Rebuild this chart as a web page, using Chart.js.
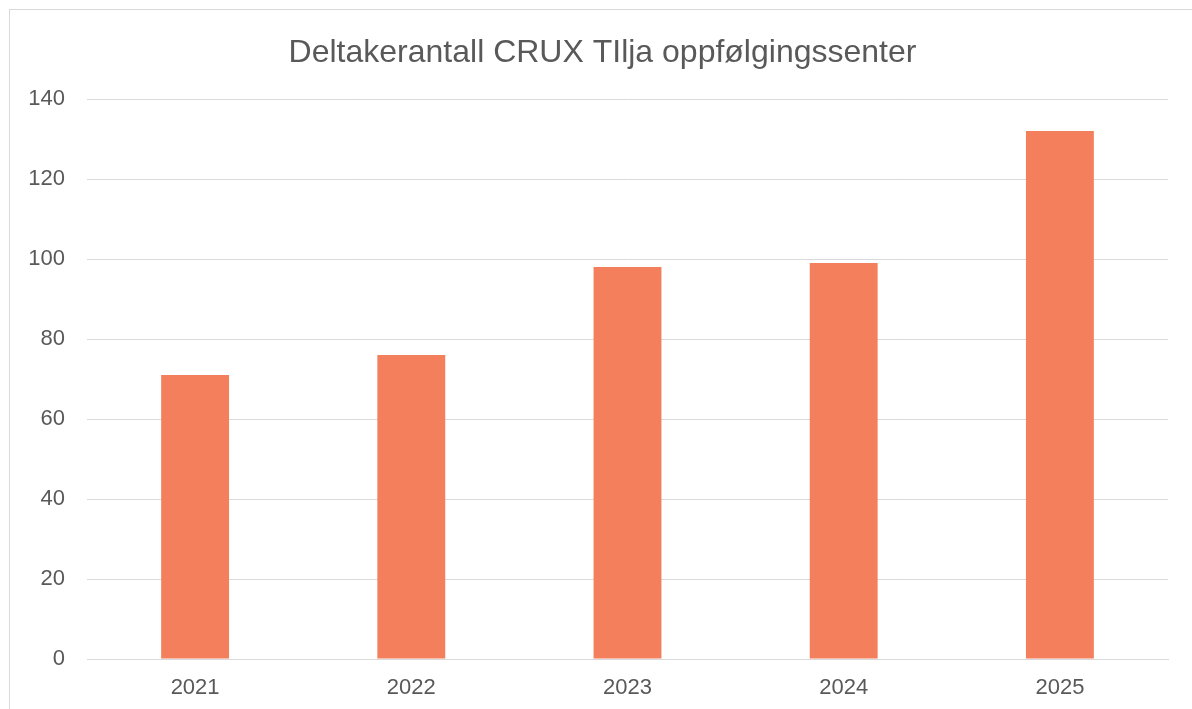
<!DOCTYPE html>
<html>
<head>
<meta charset="utf-8">
<script src="https://cdn.jsdelivr.net/npm/chart.js@4.4.1/dist/chart.umd.min.js"></script>
<style>
  html, body { margin: 0; padding: 0; background: #ffffff; overflow: hidden; }
  #wrap { position: relative; width: 1192px; height: 709px; }
  #frame { position: absolute; left: 9px; top: 9px; width: 1200px; height: 720px; border: 1px solid #d9d9d9; box-sizing: border-box; }
  canvas { position: absolute; left: 0; top: 0; }
</style>
</head>
<body>
<div id="wrap">
  <div id="frame"></div>
  <canvas id="c" width="1192" height="709"></canvas>
</div>
<script>
const chartTitle = "Deltakerantall CRUX TIlja oppfølgingssenter";
const categories = ["2021", "2022", "2023", "2024", "2025"];
const values = [71, 76, 98, 99, 132];
const yTicks = [0, 20, 40, 60, 80, 100, 120, 140];

const textColor = "#595959";
const gridColor = "#d9d9d9";
const fontFamily = "'Liberation Sans', Arial, sans-serif";

const titleShift = {
  id: "titleShift",
  afterLayout(chart) {
    if (chart.titleBlock) { chart.titleBlock.left = 37; }
  }
};

new Chart(document.getElementById("c"), {
  type: "bar",
  data: {
    labels: categories,
    datasets: [{
      data: values,
      backgroundColor: "#F47F5C",
      borderWidth: 0,
      barPercentage: 0.314,
      categoryPercentage: 1.0
    }]
  },
  plugins: [titleShift],
  options: {
    responsive: false,
    animation: false,
    devicePixelRatio: 1,
    layout: { padding: { left: 0, right: 24, top: 0, bottom: 0 } },
    plugins: {
      legend: { display: false },
      tooltip: { enabled: false },
      title: {
        display: true,
        text: chartTitle,
        color: textColor,
        font: { family: fontFamily, size: 32, weight: "normal", lineHeight: 1.2 },
        padding: { top: 34, bottom: 26.6 }
      }
    },
    scales: {
      x: {
        grid: { display: false, drawTicks: false },
        border: { display: true, color: gridColor, width: 1 },
        ticks: { color: textColor, font: { family: fontFamily, size: 22, lineHeight: 1.2 }, padding: 16 },
        afterFit: (s) => { s.height = 50; }
      },
      y: {
        min: 0,
        max: 140,
        afterBuildTicks: (s) => { s.ticks = yTicks.map(v => ({ value: v })); },
        grid: { color: gridColor, lineWidth: 1, drawTicks: false },
        border: { display: false },
        ticks: { color: textColor, font: { family: fontFamily, size: 22, lineHeight: 1.2 }, padding: 22 },
        afterFit: (s) => { s.width = 87; }
      }
    }
  }
});
</script>
</body>
</html>
